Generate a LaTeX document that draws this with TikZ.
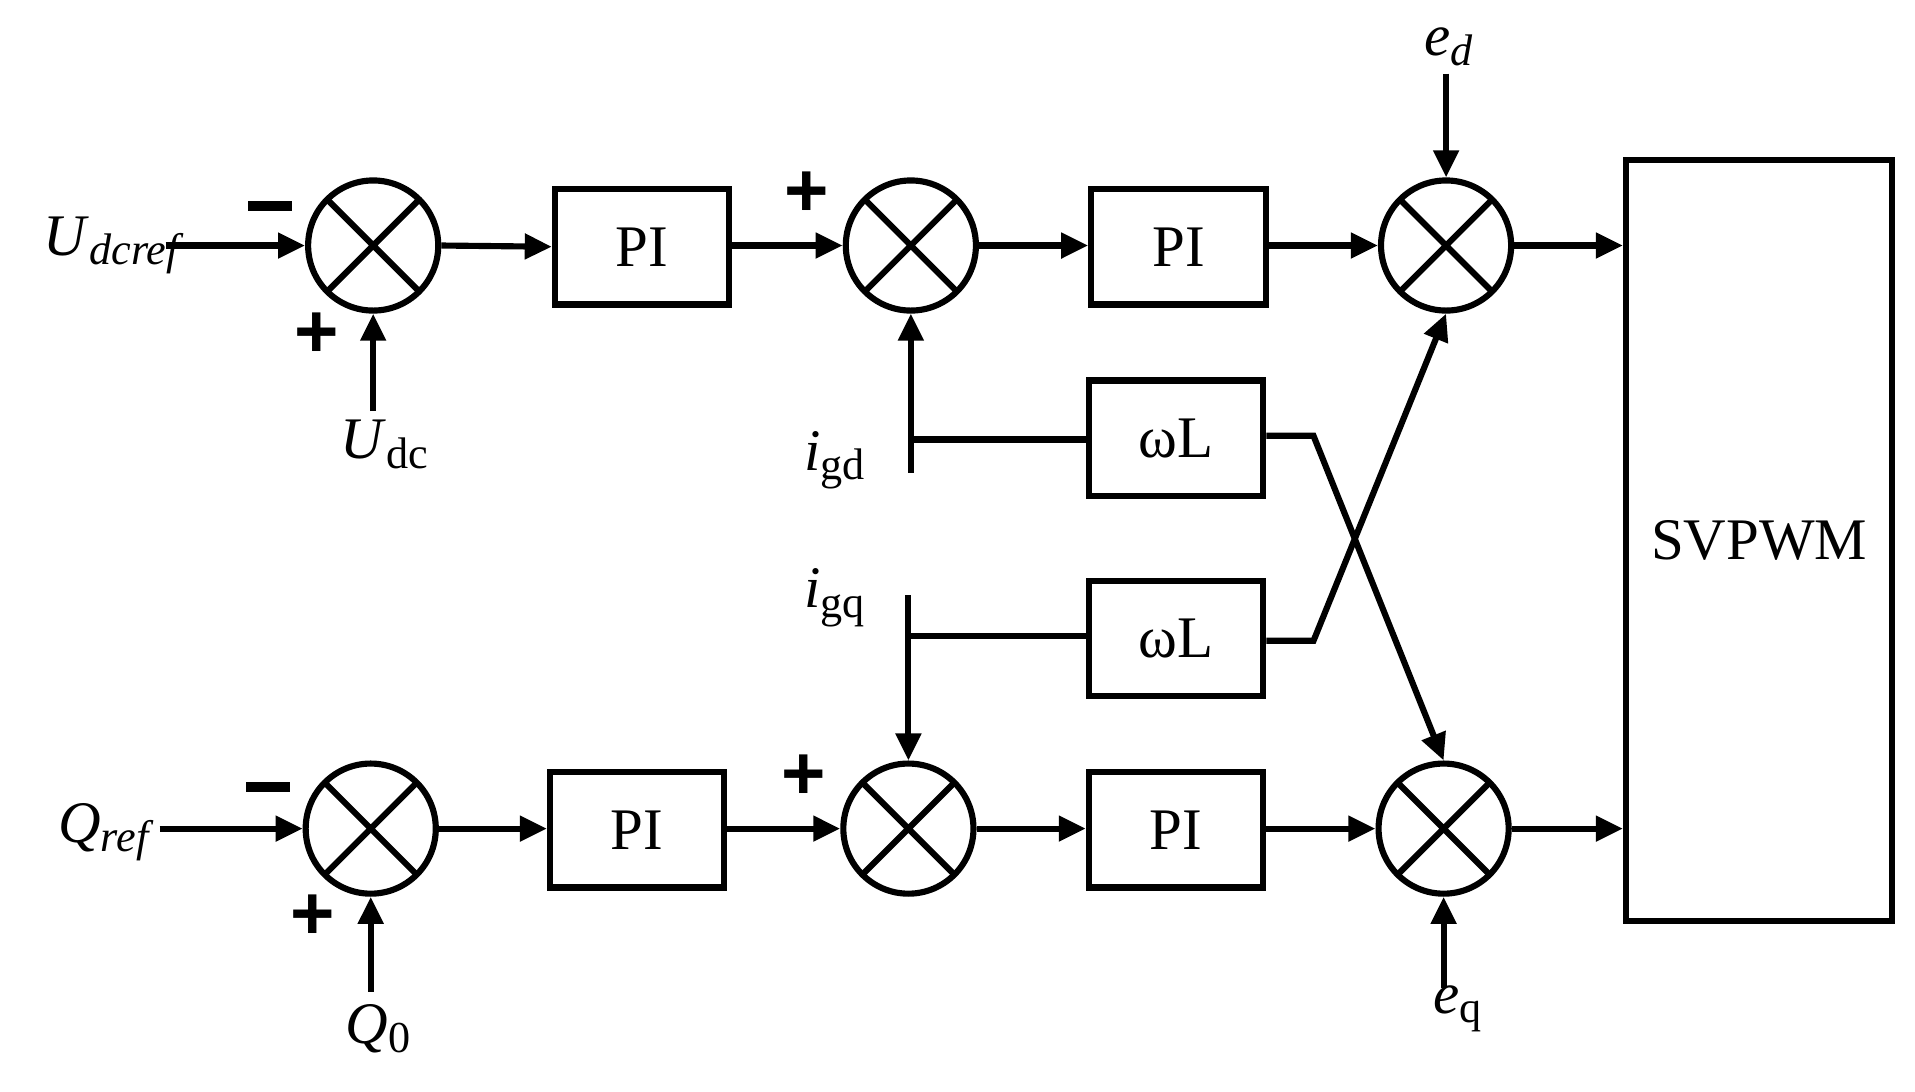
\documentclass[tikz,border=0pt]{standalone}
\usepackage{fontspec}
\setmainfont{Liberation Serif}
\newfontfamily\sgnfont{Liberation Sans}
\usetikzlibrary{arrows.meta}
\newcommand{\sbs}[1]{\raisebox{-0.35ex}{\fontsize{36}{36}\selectfont #1}}
\begin{document}
\begin{tikzpicture}[x=1pt,y=-1pt,line width=5pt,
  sum/.style={draw,circle,minimum size=106pt,inner sep=0pt,path picture={
    \draw[line width=5pt] (path picture bounding box.north west)--(path picture bounding box.south east)
      (path picture bounding box.north east)--(path picture bounding box.south west);}},
  blk/.style={draw,minimum width=142pt,minimum height=94pt,font=\fontsize{48}{48}\selectfont},
  lbl/.style={font=\fontsize{48}{48}\selectfont,inner sep=0pt},
  sgn/.style={font=\sgnfont\fontsize{62}{62}\selectfont\bfseries,inner sep=0pt},
  arr/.style={-{Triangle[length=22pt,width=20pt]}}]
\useasboundingbox (0,0) rectangle (1560,889);
\node[sum] (s1) at (304,200) {};
\node[sum] (s2) at (742,200) {};
\node[sum] (s3) at (1178,200) {};
\node[sum] (s4) at (302,675) {};
\node[sum] (s5) at (740,675) {};
\node[sum] (s6) at (1176,675) {};
\node[blk] (p1) at (523,201) {PI};
\node[blk] (p2) at (960,201) {PI};
\node[blk] (p3) at (519,676) {PI};
\node[blk] (p4) at (958,676) {PI};
\node[blk] (w1) at (958,357) {ωL};
\node[blk] (w2) at (958,520) {ωL};
\node[draw,minimum width=217pt,minimum height=620pt,lbl] (sv) at (1433,440) {SVPWM};
\node[lbl,anchor=west] (udr) at (33,200) {\textit{U}\sbs{\textit{dcref}}};
\node[lbl] (udc) at (313,362) {\textit{U}\sbs{dc}};
\node[lbl] (igd) at (680,375) {\textit{i}\sbs{gd}};
\node[lbl] (igq) at (680,487) {\textit{i}\sbs{gq}};
\node[lbl] (ed) at (1180,38) {\textit{e}\sbs{\textit{d}}};
\node[lbl] (eq) at (1187,822) {\textit{e}\sbs{q}};
\node[lbl,anchor=west] (qr) at (45,678) {\textit{Q}\sbs{\textit{ref}}};
\node[lbl] (q0) at (308,838) {\textit{Q}\sbs{0}};
\node[sgn] at (220,168) {\rule{36pt}{8pt}};
\node[sgn] at (218,641) {\rule{36pt}{8pt}};
\node[sgn] at (258,273) {+};
\node[sgn] at (255,747) {+};
\node[sgn] at (657,158) {+};
\node[sgn] at (655,633) {+};
\coordinate (a1) at (135,200); \coordinate (a2) at (130,675);
\coordinate (b1) at (304,335); \coordinate (b2) at (302,808);
\coordinate (gd) at (742,385); \coordinate (gdj) at (742,358);
\coordinate (gq) at (740,485); \coordinate (gqj) at (740,518);
\coordinate (k1) at (1070,355); \coordinate (k2) at (1070,522);
\coordinate (ed1) at (1178,60); \coordinate (eq1) at (1176,805);
\draw[arr] (a1)--(s1.west);
\draw[arr] (a2)--(s4.west);
\draw[arr] (b1)--(s1.south);
\draw[arr] (b2)--(s4.south);
\draw[arr] (s1.east)--(p1.west);
\draw[arr] (s4.east)--(p3.west|-s4.east);
\draw[arr] (p1.east|-s2.west)--(s2.west);
\draw[arr] (p3.east|-s5.west)--(s5.west);
\draw[arr] (s2.east)--(p2.west|-s2.east);
\draw[arr] (s5.east)--(p4.west|-s5.east);
\draw[arr] (p2.east|-s3.west)--(s3.west);
\draw[arr] (p4.east|-s6.west)--(s6.west);
\draw[arr] (s3.east)--(sv.west|-s3.east);
\draw[arr] (s6.east)--(sv.west|-s6.east);
\draw[arr] (gd)--(s2.south);
\draw (gdj)--(w1.west|-gdj);
\draw[arr] (gq)--(s5.north);
\draw (gqj)--(w2.west|-gqj);
\draw[arr] (w1.east|-k1)--(k1)--(s6.north);
\draw[arr] (w2.east|-k2)--(k2)--(s3.south);
\draw[arr] (ed1)--(s3.north);
\draw[arr] (eq1)--(s6.south);
\end{tikzpicture}
\end{document}
